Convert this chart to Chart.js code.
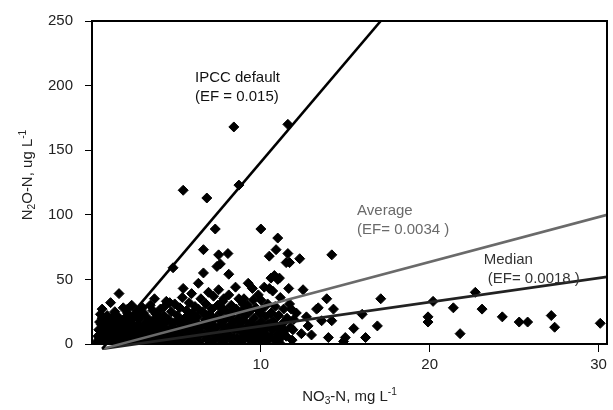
<!DOCTYPE html>
<html>
<head>
<meta charset="utf-8">
<script src="https://cdn.jsdelivr.net/npm/chart.js@4.4.1/dist/chart.umd.min.js"></script>
<style>
  body { margin: 0; background: #fff; }
  #wrap { width: 613px; height: 410px; }
</style>
</head>
<body>
<div id="wrap"><canvas id="chart" width="613" height="410"></canvas></div>
<script>
// NO3-N (mg/L) vs N2O-N (ug/L)
const samples = [
  [0.3,2],[0.35,6],[0.4,1],[0.4,11],[0.45,4],[0.5,0.5],[0.5,8],[0.55,15],[0.6,3],[0.6,20],[0.65,10],[0.7,1],
  [0.7,6],[0.75,13],[0.8,2],[0.8,18],[0.85,8],[0.9,4],[0.9,22],[0.95,11],[1.0,0.5],[1.0,15],[0.5,23],[0.6,27],
  [1.05,5],[1.1,32],[1.1,9],[1.15,2],[1.2,19],[1.25,12],[1.3,0.5],[1.3,7],[1.35,25],[1.4,3],[1.45,15],[1.5,10],
  [1.55,21],[1.6,39],[1.6,1],[1.65,6],[1.7,17],[1.75,13],[1.8,3],[1.85,28],[1.9,9],[1.95,20],[2.0,1],[2.0,14],
  [2.05,6],[2.1,24],[2.15,11],[2.2,2],[2.25,17],[2.3,8],[2.35,30],[2.4,4],[2.45,13],[2.5,21],[2.55,0.5],[2.6,9],
  [2.65,26],[2.7,15],[2.75,5],[2.8,19],[2.85,2],[2.9,12],[2.95,7],[3.0,28],
  [3.05,24],[3.1,3],[3.15,16],[3.2,10],[3.25,1],[3.3,20],[3.35,6],[3.4,13],[3.45,30],[3.5,8],[3.55,2],[3.6,18],
  [3.7,35],[3.7,11],[3.75,5],[3.8,23],[3.85,14],[3.9,1],[3.95,9],[4.0,19],
  [4.05,27],[4.1,4],[4.15,12],[4.2,7],[4.25,22],[4.3,1],[4.35,16],[4.4,33],[4.45,10],[4.5,3],[4.55,19],[4.6,32],
  [4.65,6],[4.7,25],[4.75,13],[4.8,59],[4.8,2],[4.85,9],[4.9,31],[4.95,17],[5.0,5],
  [5.05,22],[5.1,11],[5.15,1],[5.2,28],[5.25,7],[5.3,15],[5.35,36],[5.4,119],[5.4,43],[5.45,3],[5.5,20],[5.55,10],
  [5.6,26],[5.65,5],[5.7,14],[5.75,32],[5.8,1],[5.85,18],[5.9,39],[5.9,8],[5.95,24],[6.0,12],
  [6.05,3],[6.1,29],[6.15,17],[6.2,6],[6.25,21],[6.3,47],[6.35,10],[6.4,2],[6.45,35],[6.5,14],[6.55,25],[6.6,55],
  [6.6,73],[6.65,7],[6.7,19],[6.75,31],[6.8,113],[6.8,4],[6.85,12],[6.9,40],[6.95,23],[7.0,1],
  [7.05,16],[7.1,27],[7.15,8],[7.2,37],[7.25,3],[7.3,89],[7.3,20],[7.35,12],[7.4,60],[7.45,30],[7.5,69],[7.5,42],
  [7.55,6],[7.6,62],[7.6,24],[7.65,15],[7.7,1],[7.75,33],[7.8,35],[7.8,10],[7.85,19],[7.9,4],[7.95,26],[8.0,13],
  [8.05,70],[8.1,54],[8.1,38],[8.15,7],[8.2,22],[8.25,30],[8.3,2],[8.35,17],[8.4,168],[8.45,11],[8.5,44],[8.55,27],
  [8.6,5],[8.65,20],[8.7,123],[8.7,35],[8.75,14],[8.8,1],[8.85,25],[8.9,9],[8.95,31],[9.0,35],[9.0,18],
  [9.05,4],[9.1,22],[9.15,12],[9.2,30],[9.25,47],[9.3,7],[9.35,16],[9.4,26],[9.45,2],[9.5,43],[9.5,11],[9.55,34],
  [9.6,20],[9.65,6],[9.7,28],[9.75,14],[9.8,1],[9.85,38],[9.9,9],[9.95,24],[10.0,89],[10.0,34],[10.0,17],
  [10.05,4],[10.1,27],[10.15,12],[10.2,44],[10.25,8],[10.3,21],[10.35,2],[10.4,31],[10.45,15],[10.5,68],[10.5,43],
  [10.55,6],[10.6,51],[10.6,24],[10.7,41],[10.7,11],[10.75,18],[10.8,53],[10.8,3],[10.85,29],[10.9,73],[10.95,14],
  [11.0,82],[11.0,50],[11.0,8],[11.1,1],
  [11.05,22],[11.1,51],[11.15,36],[11.2,5],[11.3,16],[11.35,27],[11.4,10],[11.5,63],[11.55,20],[11.6,170],[11.6,70],
  [11.65,43],[11.7,31],[11.7,63],[11.75,13],[11.8,27],[11.85,3],[11.9,11],[11.95,19],
  [12.1,24],[12.3,66],[12.4,8],[12.5,42],[12.7,21],[12.8,14],[13.0,7],[13.3,27],[13.4,28],[13.6,18],[13.9,35],
  [14.0,5],[14.2,69],[14.2,18],[14.3,27],[14.9,2],[15.0,5],[15.5,12],[16.0,23],[16.2,5],[16.9,14],[17.1,35],
  [19.9,21],[19.9,17],[20.2,33],[21.4,28],[21.8,8],[22.7,40],[23.1,27],[24.3,21],[25.3,17],[25.8,17],[27.2,22],
  [27.4,13],[30.1,16],
  // extra samples filling the dense low cluster
  [0.45,17],[0.55,4],[0.75,9],[0.95,6],[1.2,4],[1.4,11],[1.6,16],[1.8,7],[2.0,18],[2.2,12],[2.4,9],[2.6,3],
  [2.8,11],[3.0,5],[3.2,14],[3.4,4],[3.6,9],[3.8,3],[4.0,12],[4.2,15],[4.4,6],[4.6,11],[4.8,16],[5.0,9],
  [5.2,4],[5.4,12],[5.6,17],[5.8,9],[6.0,20],[6.2,13],[6.4,8],[6.6,16],[6.8,22],[7.0,9],[7.2,14],[7.4,5],
  [7.6,18],[7.8,2],[8.0,8],[8.2,14],[8.4,4],[8.6,12],[8.8,17],[9.0,6],[9.2,10],[9.4,3],[9.6,14],[9.8,8],
  [1.3,22],[2.1,27],[2.9,22],[3.6,26],[4.3,29],[5.1,18],[5.7,21],[6.3,27],[7.0,22],[7.7,28],[8.3,25],[9.1,27],
  [10.2,10],[10.6,16],[11.2,13],[11.5,6]
];

const xTicks = [10, 20, 30];
const yTicks = [0, 50, 100, 150, 200, 250];

// emission factor lines, [x, y] end points
const ipccLine = [[0.6, -3.8], [17.1, 250]];
const averageLine = [[0.6, -3.8], [30.5, 100]];
const medianLine = [[0.6, -3.8], [30.5, 52]];

// label anchors in data units (first line baseline)
const lineLabels = [
  { text: ["IPCC default", "(EF = 0.015)"], x: 6.1, y: 203, dx: 0, color: "#111" },
  { text: ["Average", "(EF= 0.0034 )"], x: 15.7, y: 100, dx: 0, color: "#6a6a6a" },
  { text: ["Median", "(EF= 0.0018 )"], x: 23.2, y: 61.7, dx: 4, color: "#333" }
];

const FONT = "'Liberation Sans', Arial, sans-serif";

function toPoints(arr) {
  return arr.map(p => ({ x: p[0], y: p[1] }));
}

// draw text with sub/superscript parts, centred on 0,0 (baseline)
function drawRich(ctx, parts, size) {
  const small = size * 0.68;
  let w = 0;
  parts.forEach(p => {
    ctx.font = (p.s ? small : size) + "px " + FONT;
    w += ctx.measureText(p.t).width;
  });
  let x = -w / 2;
  parts.forEach(p => {
    ctx.font = (p.s ? small : size) + "px " + FONT;
    const dy = p.s === "sub" ? size * 0.22 : p.s === "sup" ? -size * 0.42 : 0;
    ctx.fillText(p.t, x, dy);
    x += ctx.measureText(p.t).width;
  });
}

const decorations = {
  id: "decorations",
  afterDraw(chart) {
    const { ctx, chartArea: a, scales } = chart;
    ctx.save();
    // frame top and right
    ctx.strokeStyle = "#000";
    ctx.lineWidth = 2;
    ctx.beginPath();
    ctx.moveTo(a.left - 1, a.top);
    ctx.lineTo(a.right, a.top);
    ctx.lineTo(a.right, a.bottom + 1);
    ctx.stroke();

    // line labels
    ctx.textBaseline = "alphabetic";
    ctx.textAlign = "left";
    ctx.font = "15px " + FONT;
    lineLabels.forEach(l => {
      const px = scales.x.getPixelForValue(l.x);
      const py = scales.y.getPixelForValue(l.y);
      ctx.fillStyle = l.color;
      ctx.fillText(l.text[0], px, py);
      ctx.fillText(l.text[1], px + l.dx, py + 19);
    });

    // axis titles
    ctx.fillStyle = "#222";
    ctx.save();
    ctx.translate((a.left + a.right) / 2, 401);
    drawRich(ctx, [{ t: "NO" }, { t: "3", s: "sub" }, { t: "-N, mg L" }, { t: "-1", s: "sup" }], 15);
    ctx.restore();

    ctx.save();
    ctx.translate(32, 175);
    ctx.rotate(-Math.PI / 2);
    drawRich(ctx, [{ t: "N" }, { t: "2", s: "sub" }, { t: "O-N, ug L" }, { t: "-1", s: "sup" }], 15);
    ctx.restore();

    ctx.restore();
  }
};

const efLine = (data, color) => ({
  type: "line",
  data: toPoints(data),
  showLine: true,
  borderColor: color,
  borderWidth: 2.6,
  pointRadius: 0,
  fill: false,
  order: 1,
  clip: { left: 0, top: 0, right: 0, bottom: 6 }
});

new Chart(document.getElementById("chart"), {
  type: "scatter",
  data: {
    datasets: [
      efLine(ipccLine, "#000"),
      efLine(averageLine, "#6a6a6a"),
      efLine(medianLine, "#222"),
      {
        data: toPoints(samples),
        pointStyle: "rectRot",
        pointRadius: 5,
        pointBorderWidth: 1,
        backgroundColor: "#000",
        borderColor: "#000",
        order: 2
      }
    ]
  },
  options: {
    responsive: false,
    animation: false,
    events: [],
    layout: { padding: { left: 0, top: 16, right: 6, bottom: 0 } },
    plugins: { legend: { display: false }, tooltip: { enabled: false } },
    scales: {
      x: {
        type: "linear",
        min: 0,
        max: 30.5,
        afterBuildTicks: s => { s.ticks = xTicks.map(v => ({ value: v })); },
        afterFit: s => { s.height = 66; },
        border: { color: "#000", width: 2 },
        grid: { drawOnChartArea: false, color: "#000", tickLength: 8, tickWidth: 1 },
        ticks: { color: "#222", font: { family: FONT, size: 15 }, padding: 4 }
      },
      y: {
        min: 0,
        max: 250,
        afterBuildTicks: s => { s.ticks = yTicks.map(v => ({ value: v })); },
        afterFit: s => { s.width = 92; },
        border: { color: "#000", width: 2 },
        grid: { drawOnChartArea: false, color: "#000", tickLength: 7, tickWidth: 1 },
        ticks: { color: "#222", font: { family: FONT, size: 15 }, padding: 12 }
      }
    }
  },
  plugins: [decorations]
});
</script>
</body>
</html>
